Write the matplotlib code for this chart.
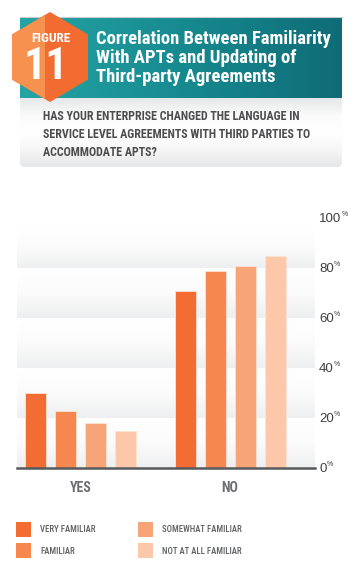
import matplotlib
matplotlib.use("Agg")
import matplotlib.pyplot as plt
import numpy as np
from matplotlib import font_manager
from matplotlib.patches import Polygon, Rectangle, FancyBboxPatch
from matplotlib.colors import LinearSegmentedColormap

# ---- data ----
categories = ["YES", "NO"]
series_names = ["VERY FAMILIAR", "FAMILIAR", "SOMEWHAT FAMILIAR", "NOT AT ALL FAMILIAR"]
very_familiar = [30, 71]
familiar = [23, 79]
somewhat_familiar = [18, 81]
not_at_all_familiar = [15, 85]
yticks = [0, 20, 40, 60, 80, 100]
title_lines = ["Correlation Between Familiarity", "With APTs and Updating of", "Third-party Agreements"]
question_lines = ["HAS YOUR ENTERPRISE CHANGED THE LANGUAGE IN",
                  "SERVICE LEVEL AGREEMENTS WITH THIRD PARTIES TO",
                  "ACCOMMODATE APTS?"]

colors = ["#f26c33", "#f5874f", "#f7a478", "#fcc8a9"]
series = [very_familiar, familiar, somewhat_familiar, not_at_all_familiar]


def _w(f):
    w = f.weight
    if isinstance(w, str):
        return {"bold": 700, "semibold": 600, "heavy": 800, "black": 900}.get(w, 400)
    return w


# prefer a condensed family that has a bold face
fl = font_manager.fontManager.ttflist
bold_cond = sorted({f.name for f in fl
                    if ("Narrow" in f.name or "Condensed" in f.name or f.stretch in ("condensed", "semi-condensed"))
                    and _w(f) >= 600 and f.style == "normal"})
pref = [n for n in ["Liberation Sans Narrow", "Roboto Condensed", "Arial Narrow", "Open Sans Condensed",
                    "DejaVu Sans Condensed"] if n in bold_cond]
COND_NAME = pref[0] if pref else (bold_cond[0] if bold_cond else None)
COND = ([COND_NAME] if COND_NAME else []) + ["Liberation Sans", "DejaVu Sans"]
REG = ["Liberation Sans", "DejaVu Sans"]
plt.rcParams["font.family"] = REG

W, H = 355, 568
fig = plt.figure(figsize=(W / 100, H / 100), dpi=100)
fig.patch.set_facecolor("white")
renderer = fig.canvas.get_renderer()


def fit_size(s, width_px, weight="bold", family=COND, base=10):
    t = fig.text(0, 0, s, fontsize=base, fontweight=weight, family=family)
    w = t.get_window_extent(renderer).width
    t.remove()
    return base * width_px / w


# background axes in pixel coords
bg = fig.add_axes([0, 0, 1, 1])
bg.set_xlim(0, W)
bg.set_ylim(H, 0)
bg.axis("off")
bg.set_zorder(0)

# subtitle box gradient
grad = np.linspace(0, 1, 100).reshape(-1, 1)
cm_gray = LinearSegmentedColormap.from_list("g", ["#e6e7e8", "#fbfbfb", "#ffffff", "#f6f6f6", "#e6e7e8"])
box = FancyBboxPatch((20, 90), 322, 77, boxstyle="round,pad=0,rounding_size=5",
                     facecolor="none", edgecolor="none")
bg.add_patch(box)
im = bg.imshow(grad, extent=(20, 342, 167, 98), cmap=cm_gray, aspect="auto", zorder=1)
im.set_clip_path(box)

# teal header gradient
cm_teal = LinearSegmentedColormap.from_list("t", ["#24a4a4", "#178a90", "#0f6c76"])
bg.imshow(np.linspace(0, 1, 200).reshape(1, -1), extent=(20, 342, 98, 17), cmap=cm_teal,
          aspect="auto", zorder=2)
bg.plot([20, 342], [16.5, 16.5], color="#c8cacc", lw=0.8, zorder=2)

# hexagon
cx, cy, r, hw = 50, 57, 45, 38
hexv = [(cx, cy - r), (cx + hw, cy - r / 2), (cx + hw, cy + r / 2), (cx, cy + r),
        (cx - hw, cy + r / 2), (cx - hw, cy - r / 2)]
bg.add_patch(Polygon(hexv, closed=True, facecolor="#f26b30", edgecolor="none", zorder=3))
split = 45
t = (split - (cx - hw)) / hw
light = [(cx - hw, cy - r / 2), (split, cy - r / 2 - t * r / 2), (split, cy + r / 2 + t * r / 2),
         (cx - hw, cy + r / 2)]
bg.add_patch(Polygon(light, closed=True, facecolor="#f7914f", edgecolor="none", zorder=3))
bg.text(51, 38.5, "FIGURE", color="white", fontsize=fit_size("FIGURE", 39), fontweight="bold",
        family=COND, ha="center", va="center", zorder=4)
bg.text(45.5, 67, "11", color="white", fontsize=fit_size("11", 45), fontweight="bold",
        family=COND, ha="center", va="center", zorder=4)

# title
ts = fit_size(title_lines[0], 236)
for i, line in enumerate(title_lines):
    bg.text(96, 39.5 + i * 18.5, line, color="white", fontsize=ts, fontweight="bold",
            family=COND, ha="left", va="center", zorder=4)

# question
qs = fit_size(question_lines[1], 268)
for i, line in enumerate(question_lines):
    bg.text(43, 116.5 + i * 17.8, line, color="#4d4d4f", fontsize=qs, fontweight="bold",
            family=COND, ha="left", va="center", zorder=4)

# legend
ls = fit_size("SOMEWHAT FAMILIAR", 79, weight="medium")
leg_pos = [(16, 522), (16, 543), (138, 522), (138, 543)]
for (lx, ly), name, c in zip(leg_pos, series_names, colors):
    bg.add_patch(Rectangle((lx, ly), 15, 15, facecolor=c, edgecolor="none", zorder=3))
    bg.text(lx + 24, ly + 8, name, color="#5f6062", fontsize=ls, family=COND,
            fontweight="medium", ha="left", va="center", zorder=4)

# ---- chart axes ----
left, right, base, top = 17, 315, 468, 218
ax = fig.add_axes([left / W, (H - base) / H, (right - left) / W, (base - top) / H])
ax.set_zorder(1)
ax.patch.set_alpha(0)
x0 = -(80.5 - 17) / 150
x1 = 1 + (315 - 230) / 150

# band gradients
cm_band = LinearSegmentedColormap.from_list("b", ["#ffffff", "#fbfbfb", "#eeeff0"])
for lo in yticks[:-1]:
    hi = lo + 20 - (4 if lo == 80 else 0)
    ax.imshow(np.linspace(0, 1, 100).reshape(-1, 1), extent=(x0, x1, lo, hi),
              cmap=cm_band, aspect="auto", zorder=0, origin="upper")
ax.set_xlim(x0, x1)
ax.set_ylim(0, 100)

xs = np.arange(len(categories))
offsets = [-0.3, -0.1, 0.1, 0.3]
for vals, off, c in zip(series, offsets, colors):
    ax.bar(xs + off, vals, width=0.14, color=c, edgecolor="#fde3d3", linewidth=0.6, zorder=2)

ax.axhline(0, color="#58595b", lw=1.8, zorder=3, clip_on=False)
for s in ax.spines.values():
    s.set_visible(False)
ax.set_yticks([])
ax.set_xticks(xs)
xs_size = fit_size("YES", 22)
ax.set_xticklabels(categories, fontsize=xs_size, fontweight="bold", color="#6d6e71", family=COND)
ax.tick_params(axis="x", length=0, pad=9)

# right-side percent labels with small superscript %
for v in yticks:
    ypix = base - (base - top) * v / 100
    tn = bg.text(319, ypix + 0.5, str(v), fontsize=9.5, color="#3f3f41", ha="left",
                 va="center", family=REG, zorder=4)
    w = tn.get_window_extent(renderer).width
    bg.text(319 + w + 0.5, ypix - 3.5, "%", fontsize=5, color="#3f3f41", ha="left",
            va="center", family=REG, zorder=4)

fig.savefig("out.png", dpi=100)
